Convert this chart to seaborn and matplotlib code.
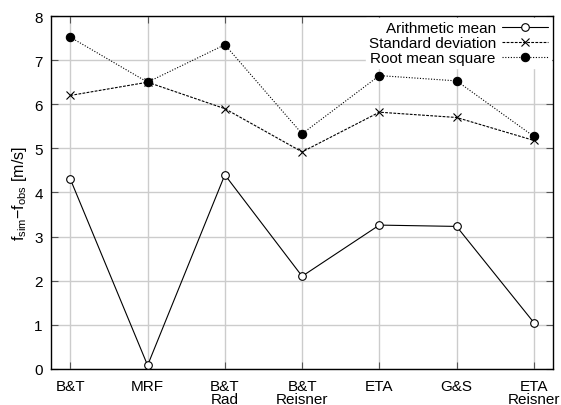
import numpy as np
import matplotlib
matplotlib.use("Agg")
import matplotlib.pyplot as plt
import pandas as pd
import seaborn as sns

models = ["B&T", "MRF", "B&T\nRad", "B&T\nReisner", "ETA", "G&S", "ETA\nReisner"]
mean_vals = [4.3, 0.08, 4.4, 2.1, 3.26, 3.23, 1.05]
std_vals = [6.2, 6.5, 5.9, 4.92, 5.82, 5.7, 5.18]
rms_vals = [7.52, 6.5, 7.35, 5.33, 6.65, 6.53, 5.27]

sns.set_theme(style="ticks")
plt.rcParams['font.family'] = ['Liberation Sans', 'DejaVu Sans']
plt.rcParams['mathtext.fontset'] = 'custom'
plt.rcParams['mathtext.rm'] = 'Liberation Sans'
plt.rcParams['mathtext.it'] = 'Liberation Sans'
for k in ['text.color', 'axes.labelcolor', 'xtick.color', 'ytick.color', 'axes.edgecolor']:
    plt.rcParams[k] = 'black'

idx = np.arange(len(models))
df = pd.DataFrame({
    "x": np.tile(idx, 3),
    "value": mean_vals + std_vals + rms_vals,
    "series": ["Arithmetic mean"] * 7 + ["Standard deviation"] * 7 + ["Root mean square"] * 7,
})

fig, ax = plt.subplots(figsize=(5.61, 4.06), dpi=100)

styles = {
    "Arithmetic mean": dict(ls="-", marker="o", mfc="white", ms=5.5),
    "Standard deviation": dict(ls=(0, (2.5, 1.2)), marker="x", mfc="black", ms=6),
    "Root mean square": dict(ls=(0, (1, 1.5)), marker="o", mfc="black", ms=6),
}
for name, st in styles.items():
    sub = df[df.series == name]
    sns.lineplot(data=sub, x="x", y="value", ax=ax, color="black", lw=0.8,
                 linestyle=st["ls"], marker=st["marker"], markersize=st["ms"],
                 markerfacecolor=st["mfc"], markeredgecolor="black",
                 markeredgewidth=0.8, label=name, clip_on=False, zorder=3)

ax.set_xlim(-0.25, 6.25)
ax.set_ylim(0, 8)
ax.set_xticks(idx)
ax.set_xticklabels(models, fontsize=11, linespacing=0.95)
ax.set_yticks(range(0, 9))
ax.tick_params(axis="y", labelsize=11, pad=6)
ax.tick_params(axis="x", pad=7)
ax.tick_params(direction="in", length=5, width=0.8, top=True, right=True, color="#555555")
ax.grid(True, color="#cccccc", lw=1)
ax.set_axisbelow(True)
for s in ax.spines.values():
    s.set_linewidth(1.0)
ax.set_xlabel("")
ax.set_ylabel(r"f$_{\rm sim}$$-$f$_{\rm obs}$ [m/s]", fontsize=11.5, labelpad=4)

leg = ax.legend(loc="upper right", markerfirst=False, frameon=True, fontsize=11,
                handlelength=3.0, borderpad=0.2, labelspacing=0.05,
                handletextpad=0.4, borderaxespad=0.15, fancybox=False)
leg.get_frame().set_edgecolor("white")
leg.get_frame().set_facecolor("white")
leg.get_frame().set_alpha(1)
for t in leg.get_texts():
    t.set_ha("right")

fig.subplots_adjust(left=0.091, right=0.986, top=0.958, bottom=0.089)
fig.savefig("out.png", dpi=100)
